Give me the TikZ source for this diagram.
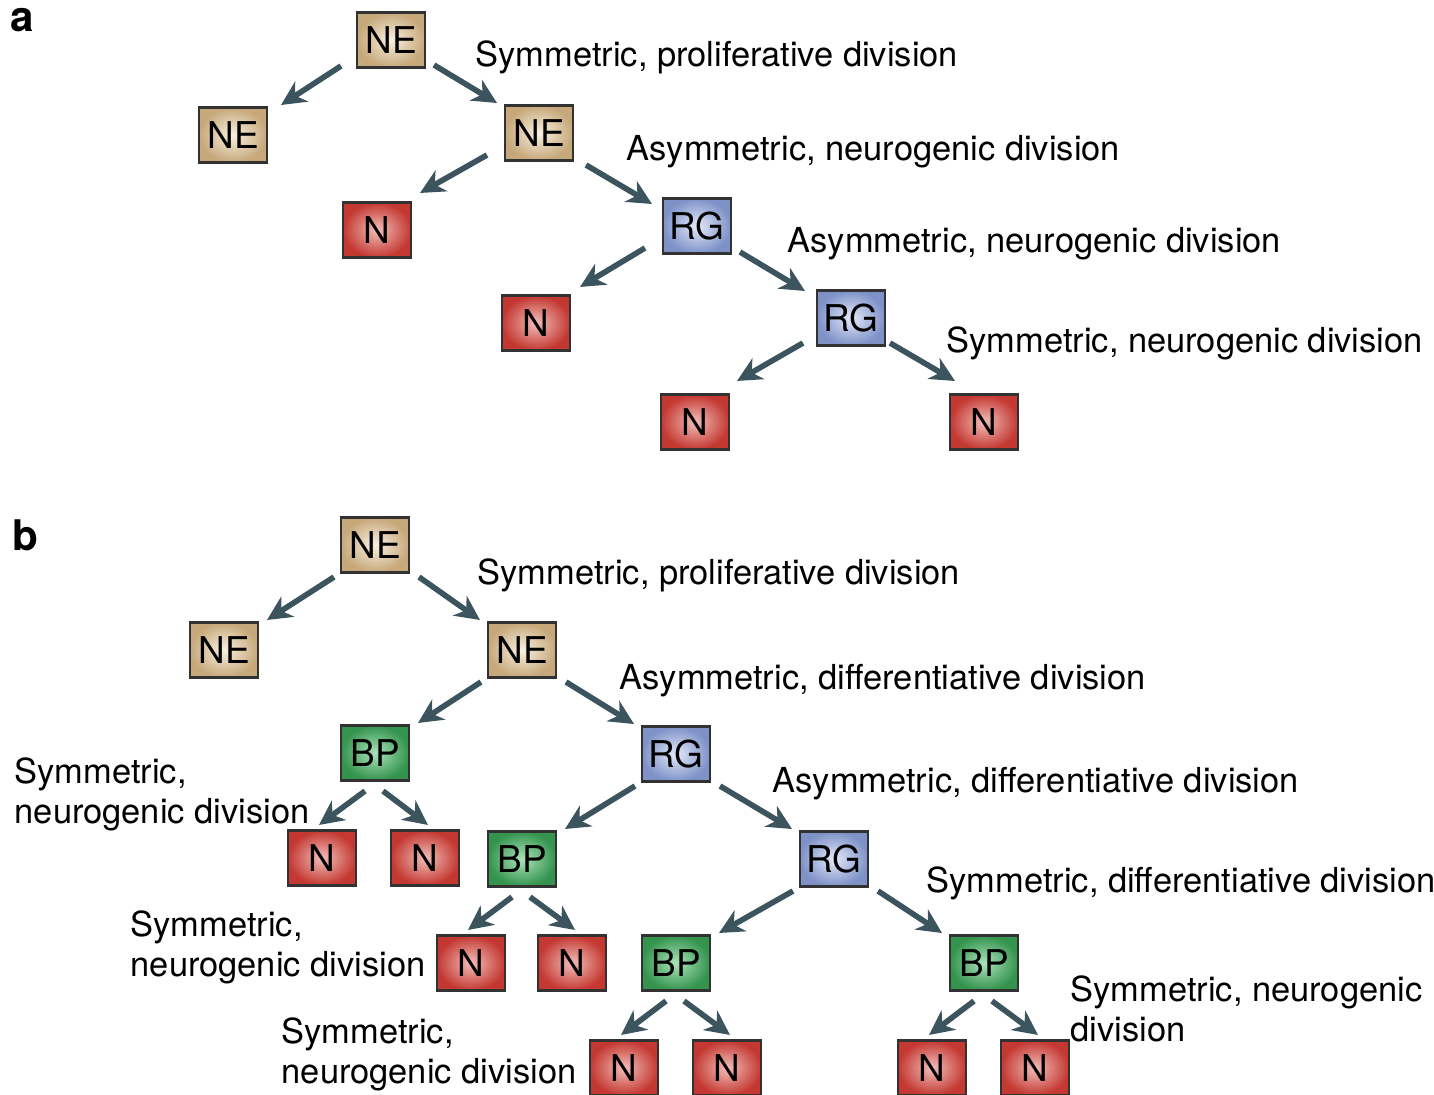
\documentclass[tikz,border=0pt]{standalone}
\usepackage{fontspec}
\setmainfont{TeX Gyre Heros}
\usetikzlibrary{arrows.meta}
\definecolor{neout}{RGB}{198,168,122}
\definecolor{nein}{RGB}{249,240,224}
\definecolor{rgout}{RGB}{126,146,200}
\definecolor{rgin}{RGB}{228,233,249}
\definecolor{bpout}{RGB}{52,148,78}
\definecolor{bpin}{RGB}{172,226,186}
\definecolor{nout}{RGB}{196,56,50}
\definecolor{nin}{RGB}{242,190,184}
\definecolor{arrcol}{RGB}{60,84,94}
\definecolor{edge}{RGB}{50,50,50}
\tikzset{
  cell/.style={draw=edge,line width=0.6pt,minimum width=0.68cm,minimum height=0.55cm,
    inner sep=0pt,shading=radial,font=\fontsize{10.5}{12}\selectfont},
  ne/.style={cell,inner color=nein,outer color=neout},
  rg/.style={cell,inner color=rgin,outer color=rgout},
  bp/.style={cell,inner color=bpin,outer color=bpout},
  nn/.style={cell,inner color=nin,outer color=nout},
  arr/.style={draw=arrcol,line width=1.6pt,-{Stealth[length=7pt,width=6.8pt,inset=2.2pt]}},
  lbl/.style={anchor=west,inner sep=0pt,align=left,font=\fontsize{9.8}{11.4}\selectfont},
  panel/.style={inner sep=0pt,font=\fontsize{12}{14}\selectfont\bfseries}
}
\begin{document}
\begin{tikzpicture}
\useasboundingbox (0,0) rectangle (14.34,-10.95);
%panel a
\node[panel] (pa) at (0.22,-0.20) {a};
\node[ne] (ane1) at (3.91,-0.40) {NE};
\node[ne] (ane2) at (2.33,-1.35) {NE};
\node[ne] (ane3) at (5.39,-1.33) {NE};
\node[nn] (an1) at (3.77,-2.30) {N};
\node[rg] (arg1) at (6.97,-2.26) {RG};
\node[nn] (an2) at (5.36,-3.23) {N};
\node[rg] (arg2) at (8.51,-3.18) {RG};
\node[nn] (an3) at (6.95,-4.22) {N};
\node[nn] (an4) at (9.84,-4.22) {N};
\draw[arr] ([shift={(-0.50,-0.26)}]ane1.center) -- ([shift={(0.48,0.30)}]ane2.center);
\draw[arr] ([shift={(0.43,-0.25)}]ane1.center) -- ([shift={(-0.42,0.30)}]ane3.center);
\draw[arr] ([shift={(-0.52,-0.22)}]ane3.center) -- ([shift={(0.43,0.37)}]an1.center);
\draw[arr] ([shift={(0.47,-0.32)}]ane3.center) -- ([shift={(-0.45,0.22)}]arg1.center);
\draw[arr] ([shift={(-0.52,-0.22)}]arg1.center) -- ([shift={(0.44,0.36)}]an2.center);
\draw[arr] ([shift={(0.43,-0.26)}]arg1.center) -- ([shift={(-0.46,0.27)}]arg2.center);
\draw[arr] ([shift={(-0.48,-0.25)}]arg2.center) -- ([shift={(0.42,0.41)}]an3.center);
\draw[arr] ([shift={(0.39,-0.25)}]arg2.center) -- ([shift={(-0.29,0.41)}]an4.center);
\node[lbl] (la1) at (4.75,-0.57) {Symmetric, proliferative division};
\node[lbl] (la2) at (6.26,-1.52) {Asymmetric, neurogenic division};
\node[lbl] (la3) at (7.87,-2.44) {Asymmetric, neurogenic division};
\node[lbl] (la4) at (9.46,-3.43) {Symmetric, neurogenic division};

%panel b
\node[panel] (pb) at (0.25,-5.35) {b};
\node[ne] (bne1) at (3.75,-5.45) {NE};
\node[ne] (bne2) at (2.24,-6.50) {NE};
\node[ne] (bne3) at (5.22,-6.50) {NE};
\node[bp] (bbp1) at (3.75,-7.53) {BP};
\node[rg] (brg1) at (6.76,-7.54) {RG};
\node[nn] (bn1) at (3.22,-8.58) {N};
\node[nn] (bn2) at (4.25,-8.58) {N};
\node[bp] (bbp2) at (5.22,-8.59) {BP};
\node[rg] (brg2) at (8.34,-8.59) {RG};
\node[nn] (bn3) at (4.71,-9.63) {N};
\node[nn] (bn4) at (5.72,-9.63) {N};
\node[bp] (bbp3) at (6.76,-9.63) {BP};
\node[bp] (bbp4) at (9.84,-9.63) {BP};
\node[nn] (bn5) at (6.24,-10.68) {N};
\node[nn] (bn6) at (7.27,-10.68) {N};
\node[nn] (bn7) at (9.32,-10.68) {N};
\node[nn] (bn8) at (10.35,-10.68) {N};
\draw[arr] ([shift={(-0.41,-0.32)}]bne1.center) -- ([shift={(0.43,0.30)}]bne2.center);
\draw[arr] ([shift={(0.44,-0.32)}]bne1.center) -- ([shift={(-0.42,0.30)}]bne3.center);
\draw[arr] ([shift={(-0.41,-0.32)}]bne3.center) -- ([shift={(0.43,0.30)}]bbp1.center);
\draw[arr] ([shift={(0.44,-0.32)}]bne3.center) -- ([shift={(-0.42,0.30)}]brg1.center);
\draw[arr] ([shift={(-0.41,-0.32)}]brg1.center) -- ([shift={(0.43,0.30)}]bbp2.center);
\draw[arr] ([shift={(0.44,-0.32)}]brg1.center) -- ([shift={(-0.42,0.30)}]brg2.center);
\draw[arr] ([shift={(-0.41,-0.32)}]brg2.center) -- ([shift={(0.43,0.30)}]bbp3.center);
\draw[arr] ([shift={(0.44,-0.32)}]brg2.center) -- ([shift={(-0.42,0.30)}]bbp4.center);
%BP to N pairs
\draw[arr] ([shift={(-0.10,-0.38)}]bbp1.center) -- ([shift={(-0.03,0.33)}]bn1.center);
\draw[arr] ([shift={(0.08,-0.38)}]bbp1.center) -- ([shift={(0.03,0.33)}]bn2.center);
\draw[arr] ([shift={(-0.10,-0.38)}]bbp2.center) -- ([shift={(-0.03,0.33)}]bn3.center);
\draw[arr] ([shift={(0.08,-0.38)}]bbp2.center) -- ([shift={(0.03,0.33)}]bn4.center);
\draw[arr] ([shift={(-0.10,-0.38)}]bbp3.center) -- ([shift={(-0.03,0.33)}]bn5.center);
\draw[arr] ([shift={(0.08,-0.38)}]bbp3.center) -- ([shift={(0.03,0.33)}]bn6.center);
\draw[arr] ([shift={(-0.10,-0.38)}]bbp4.center) -- ([shift={(-0.03,0.33)}]bn7.center);
\draw[arr] ([shift={(0.08,-0.38)}]bbp4.center) -- ([shift={(0.03,0.33)}]bn8.center);
\node[lbl] (lb1) at (4.77,-5.75) {Symmetric, proliferative division};
\node[lbl] (lb2) at (6.19,-6.81) {Asymmetric, differentiative division};
\node[lbl] (lb3) at (0.14,-7.94) {Symmetric,\\neurogenic division};
\node[lbl] (lb4) at (7.72,-7.84) {Asymmetric, differentiative division};
\node[lbl] (lb5) at (9.26,-8.83) {Symmetric, differentiative division};
\node[lbl] (lb6) at (1.30,-9.47) {Symmetric,\\neurogenic division};
\node[lbl] (lb7) at (10.70,-10.09) {Symmetric, neurogenic\\division};
\node[lbl] (lb8) at (2.81,-10.54) {Symmetric,\\neurogenic division};
\end{tikzpicture}
\end{document}
